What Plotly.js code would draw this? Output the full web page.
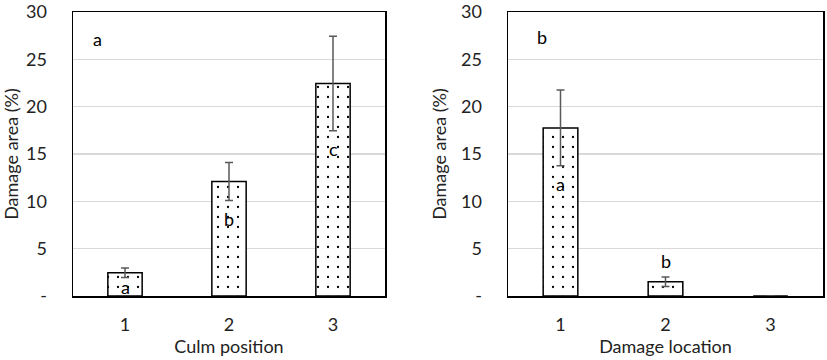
<!DOCTYPE html>
<html><head><meta charset="utf-8">
<script src="https://cdn.plot.ly/plotly-3.0.1.min.js"></script>
<style>body{margin:0;background:#fff}#c{width:827px;height:360px}</style>
</head><body><div id="c"></div>
<script>
const categories = [1, 2, 3];
const culmValues = [2.45, 12.1, 22.45];
const culmErrors = [0.5, 2.0, 5.0];
const culmLetters = ['a', 'b', 'c'];
const locValues = [17.75, 1.5, 0];
const locErrors = [4.0, 0.5, 0];
const locLetters = ['a', 'b', ''];
const yTickVals = [0, 5, 10, 15, 20, 25, 30];
const yTickText = ['-', '5', '10', '15', '20', '25', '30'];

const FONT = 'Lato, "Open Sans", sans-serif';
const FS = 18;
const pattern = {shape: '.', size: 10, solidity: 0.04, fgcolor: '#000', bgcolor: '#fff', fillmode: 'replace'};
function bar(vals, errs, xa, ya) {
  return {
    type: 'bar', x: categories, y: vals, xaxis: xa, yaxis: ya, width: 0.33,
    marker: {color: '#fff', pattern: pattern, line: {color: '#000', width: 1.5}},
    error_y: {type: 'data', array: errs, visible: true, color: '#595959', thickness: 1.5, width: 4},
    hoverinfo: 'none', showlegend: false
  };
}
const data = [bar(culmValues, culmErrors, 'x', 'y'), bar(locValues, locErrors, 'x2', 'y2')];

function xax(domain, title, anchor) {
  return {domain: domain, anchor: anchor, range: [0.5, 3.5], tickvals: categories, ticktext: categories.map(String),
    showline: true, mirror: true, linecolor: '#000', linewidth: 1.5, showgrid: false, zeroline: false,
    ticks: '', ticklabelstandoff: 12, tickfont: {family: FONT, size: FS, color: '#222'},
    title: {text: title, font: {family: FONT, size: FS, color: '#222'}, standoff: 4}, fixedrange: true};
}
function yax(anchor) {
  return {anchor: anchor, domain: [0, 1], range: [0, 30], tickvals: yTickVals, ticktext: yTickText,
    showline: true, mirror: true, linecolor: '#000', linewidth: 1.5, showgrid: true, gridcolor: '#d9d9d9', gridwidth: 1.5,
    zeroline: false, ticks: '', ticklabelstandoff: 21, ticklabeloverflow: 'allow',
    tickfont: {family: FONT, size: FS, color: '#222'},
    title: {text: 'Damage area (%)', font: {family: FONT, size: FS, color: '#222'}, standoff: 9}, fixedrange: true};
}
const annotations = [];
function letters(lst, xa, ya, pos) {
  lst.forEach((t, i) => {
    if (!t) return;
    annotations.push({xref: xa, yref: ya, x: categories[i], y: pos[i], text: t, showarrow: false,
      font: {family: FONT, size: FS, color: '#000'}});
  });
}
letters(culmLetters, 'x', 'y', [0.95, 8.1, 15.5]);
letters(locLetters, 'x2', 'y2', [11.8, 3.7, 0]);
annotations.push({xref: 'x', yref: 'y', x: 0.74, y: 27.2, text: 'a', showarrow: false, font: {family: FONT, size: FS, color: '#000'}});
annotations.push({xref: 'x2', yref: 'y2', x: 0.82, y: 27.4, text: 'b', showarrow: false, font: {family: FONT, size: FS, color: '#000'}});

const layout = {
  width: 827, height: 360, margin: {l: 0, r: 0, t: 12, b: 64},
  paper_bgcolor: '#fff', plot_bgcolor: '#fff', bargap: 0,
  xaxis: xax([73/827, 385/827], 'Culm position', 'y'),
  yaxis: yax('x'),
  xaxis2: xax([508/827, 823/827], 'Damage location', 'y2'),
  yaxis2: yax('x2'),
  annotations: annotations
};
Plotly.newPlot('c', data, layout, {displayModeBar: false, staticPlot: true});
</script></body></html>
